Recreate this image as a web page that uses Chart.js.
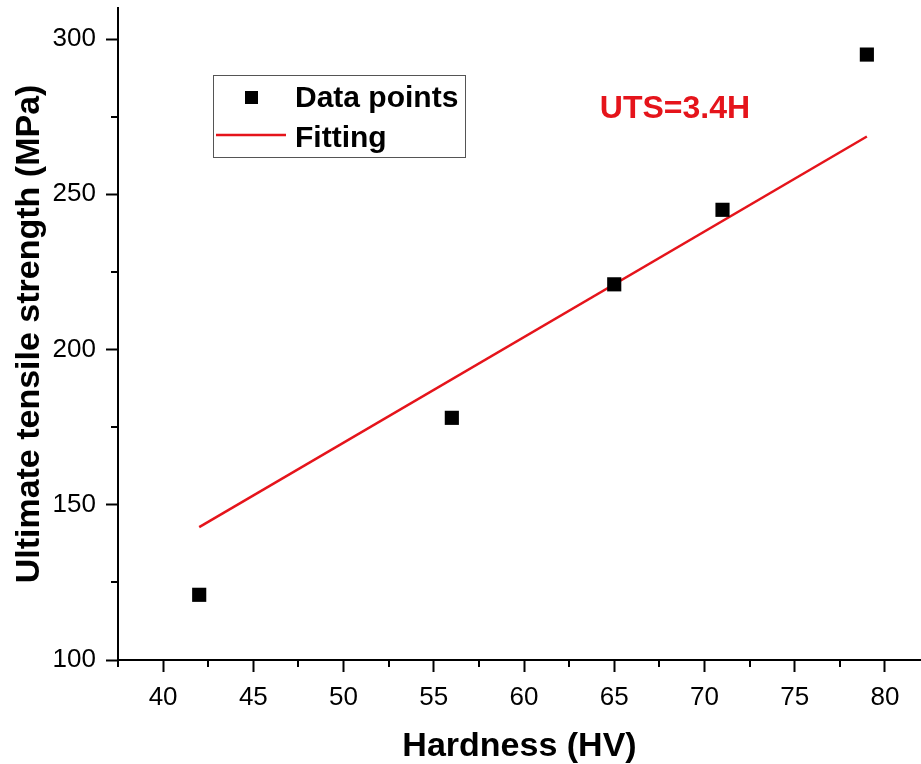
<!DOCTYPE html>
<html>
<head>
<meta charset="utf-8">
<title>UTS vs Hardness</title>
<script src="https://cdn.jsdelivr.net/npm/chart.js@4/dist/chart.umd.min.js"></script>
<style>
    html, body { margin: 0; padding: 0; background: #fff; }
    #wrap { width: 921px; height: 764px; }
</style>
</head>
<body>
<div id="wrap"><canvas id="utsChart" width="921" height="764"></canvas></div>
<script>
// Measured hardness (HV) and ultimate tensile strength (MPa)
const hardness = [42, 56, 65, 71, 79];
const strength = [121, 178, 221, 245, 295];

// Fitted line UTS = 3.4 H, end points
const fitHardness = [42, 79];
const fitStrength = [142.8, 268.6];

// Axis ranges and tick steps
const xRange = [37.5, 82];
const yRange = [100, 310];
const xStep = 5;
const yStep = 50;

const fitLabel = 'UTS=3.4H';
const labelAt = { x: 64.2, y: 274.6 };

const RED = '#e5141b';
const FONT = "'Liberation Sans', Arial, Helvetica, sans-serif";

Chart.defaults.font.family = FONT;
Chart.defaults.color = '#000';

// Short unlabeled ticks halfway between the labeled ones
const minorTicks = {
    id: 'minorTicks',
    afterDraw(chart) {
        const { ctx, chartArea, scales } = chart;
        ctx.save();
        ctx.strokeStyle = '#000';
        ctx.lineWidth = 2;
        ctx.beginPath();
        const xs = scales.x.ticks.map(t => t.value);
        const xm = [xs[0] - xStep / 2, ...xs.map(v => v + xStep / 2)];
        xm.filter(v => v >= xRange[0] && v <= xRange[1]).forEach(v => {
            const px = Math.round(scales.x.getPixelForValue(v));
            ctx.moveTo(px, chartArea.bottom);
            ctx.lineTo(px, chartArea.bottom + 7);
        });
        const ys = scales.y.ticks.map(t => t.value);
        const ym = [ys[0] - yStep / 2, ...ys.map(v => v + yStep / 2)];
        ym.filter(v => v > yRange[0] && v <= yRange[1]).forEach(v => {
            const py = Math.round(scales.y.getPixelForValue(v));
            ctx.moveTo(chartArea.left, py);
            ctx.lineTo(chartArea.left - 7, py);
        });
        ctx.stroke();
        ctx.restore();
    }
};

// Boxed legend in the upper left of the plot and the fit equation
const boxLegend = {
    id: 'boxLegend',
    afterDraw(chart) {
        const { ctx, chartArea, scales } = chart;
        const pts = chart.data.datasets[0];
        const fit = chart.data.datasets[1];
        const bx = chartArea.left + 95;
        const by = chartArea.top + 67;
        ctx.save();
        ctx.strokeStyle = '#555';
        ctx.lineWidth = 1;
        ctx.strokeRect(bx + 0.5, by + 0.5, 252, 82);

        ctx.fillStyle = pts.backgroundColor;
        ctx.fillRect(bx + 32, by + 16, 13, 13);

        ctx.strokeStyle = fit.borderColor;
        ctx.lineWidth = fit.borderWidth;
        ctx.beginPath();
        ctx.moveTo(bx + 3, by + 60);
        ctx.lineTo(bx + 73, by + 60);
        ctx.stroke();

        ctx.fillStyle = '#000';
        ctx.font = 'bold 30px ' + FONT;
        ctx.textBaseline = 'alphabetic';
        ctx.textAlign = 'left';
        ctx.fillText(pts.label, bx + 82, by + 32);
        ctx.fillText(fit.label, bx + 82, by + 72);

        ctx.fillStyle = RED;
        ctx.font = 'bold 32px ' + FONT;
        ctx.fillText(fitLabel, scales.x.getPixelForValue(labelAt.x), scales.y.getPixelForValue(labelAt.y));
        ctx.restore();
    }
};

new Chart(document.getElementById('utsChart'), {
    type: 'scatter',
    data: {
        datasets: [{
            label: 'Data points',
            data: hardness.map((h, i) => ({ x: h, y: strength[i] })),
            pointStyle: 'rect',
            pointRadius: 10,
            pointHoverRadius: 10,
            pointBorderWidth: 0,
            backgroundColor: '#000',
            borderColor: '#000',
            order: 1
        }, {
            label: 'Fitting',
            data: fitHardness.map((h, i) => ({ x: h, y: fitStrength[i] })),
            showLine: true,
            borderColor: RED,
            backgroundColor: RED,
            borderWidth: 2.5,
            pointRadius: 0,
            order: 2
        }]
    },
    options: {
        responsive: false,
        animation: false,
        devicePixelRatio: 1,
        layout: {
            autoPadding: false,
            padding: { top: 8, right: 0, bottom: 0, left: 0 }
        },
        plugins: {
            legend: { display: false },
            tooltip: { enabled: false }
        },
        scales: {
            x: {
                type: 'linear',
                position: 'bottom',
                min: xRange[0],
                max: xRange[1],
                afterFit(scale) {
                    scale.height = 104;
                    scale.paddingLeft = 0;
                    scale.paddingRight = 0;
                },
                ticks: {
                    stepSize: xStep,
                    includeBounds: false,
                    color: '#000',
                    padding: 10,
                    maxRotation: 0,
                    font: { size: 26 }
                },
                grid: {
                    drawOnChartArea: false,
                    drawTicks: true,
                    tickLength: 12,
                    tickWidth: 2,
                    tickColor: '#000'
                },
                border: { color: '#000', width: 2 },
                title: {
                    display: true,
                    text: 'Hardness (HV)',
                    color: '#000',
                    font: { size: 34, weight: 'bold', lineHeight: 1 },
                    padding: { top: 0, bottom: 0 }
                }
            },
            y: {
                type: 'linear',
                position: 'left',
                min: yRange[0],
                max: yRange[1],
                afterFit(scale) {
                    scale.width = 118;
                    scale.paddingTop = 0;
                    scale.paddingBottom = 0;
                },
                ticks: {
                    stepSize: yStep,
                    includeBounds: false,
                    color: '#000',
                    padding: 10,
                    font: { size: 26 }
                },
                grid: {
                    drawOnChartArea: false,
                    drawTicks: true,
                    tickLength: 12,
                    tickWidth: 2,
                    tickColor: '#000'
                },
                border: { color: '#000', width: 2 },
                title: {
                    display: true,
                    text: 'Ultimate tensile strength (MPa)',
                    color: '#000',
                    font: { size: 34, weight: 'bold', lineHeight: 1 },
                    padding: { top: 13, bottom: 0 }
                }
            }
        }
    },
    plugins: [minorTicks, boxLegend]
});
</script>
</body>
</html>
